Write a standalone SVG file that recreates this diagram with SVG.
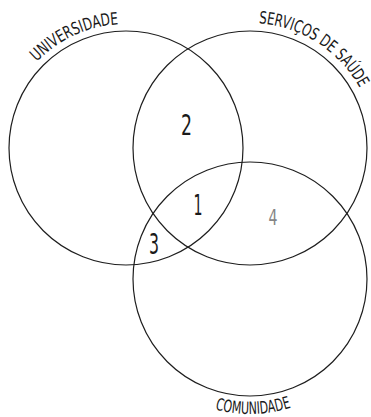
<svg xmlns="http://www.w3.org/2000/svg" width="371" height="417" viewBox="0 0 371 417">
  <style>
    .ring { fill: none; stroke: #1e1e1e; stroke-width: 1.2; }
    .lbl { font-family: 'DejaVu Sans Condensed', 'DejaVu Sans', sans-serif; font-stretch: condensed; fill: #1a1a1a; }
    .set { font-size: 17px; }
    .num { font-size: 29px; text-anchor: middle; }
  </style>
  <defs>
    <path id="pUni" d="M36.8,61.9 A124,124 0 0 1 130.3,24.1"/>
    <path id="pSer" d="M258.7,23.3 A125,125 0 0 1 363.3,95.2"/>
    <path id="pCom" d="M215.1,409.4 A135,135 0 0 0 293,407"/>
  </defs>
  <rect width="371" height="417" fill="#ffffff"/>
  <g id="universidade">
    <circle class="ring" cx="126" cy="148" r="117"/>
    <text class="lbl set"><textPath href="#pUni" textLength="92" lengthAdjust="spacingAndGlyphs">UNIVERSIDADE</textPath></text>
  </g>
  <g id="servicos-de-saude">
    <circle class="ring" cx="250" cy="148" r="117"/>
    <text class="lbl set"><textPath href="#pSer" textLength="125" lengthAdjust="spacingAndGlyphs">SERVIÇOS DE SAÚDE</textPath></text>
  </g>
  <g id="comunidade">
    <circle class="ring" cx="250" cy="279" r="117"/>
    <text class="lbl set"><textPath href="#pCom" textLength="77" lengthAdjust="spacingAndGlyphs">COMUNIDADE</textPath></text>
  </g>
  <g id="connectors"></g>
  <g id="region-2"><text class="lbl num" x="186.5" y="134.5" textLength="11" lengthAdjust="spacingAndGlyphs">2</text></g>
  <g id="region-1"><text class="lbl num" x="198" y="215" textLength="9" lengthAdjust="spacingAndGlyphs">1</text></g>
  <g id="region-3"><text class="lbl num" x="154" y="253.5" textLength="10" lengthAdjust="spacingAndGlyphs">3</text></g>
  <g id="region-4"><text class="lbl" x="273" y="225" font-size="22" text-anchor="middle" textLength="9" lengthAdjust="spacingAndGlyphs" style="fill:#858585">4</text></g>
</svg>
